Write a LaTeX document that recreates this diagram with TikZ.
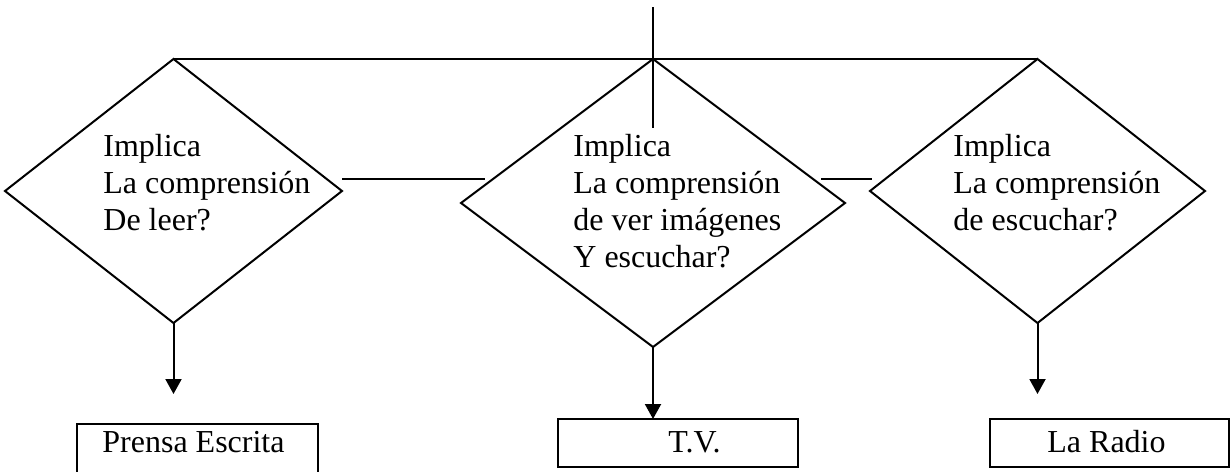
\documentclass[tikz,border=0pt]{standalone}
\usepackage{fontspec}
\setmainfont{Liberation Serif}
\usetikzlibrary{shapes.geometric,arrows.meta,positioning,calc}

\tikzset{
    rombo/.style={draw, diamond, inner sep=0pt, outer sep=0pt, line width=1pt},
    caja/.style={draw, rectangle, inner sep=0pt, outer sep=0pt, line width=1pt},
    texto/.style={anchor=base west, inner sep=0pt, align=left,
        font=\fontsize{16}{18.5}\selectfont},
    linea/.style={line width=1pt},
    flecha/.style={line width=1pt, -{Triangle[length=7.5pt,width=8pt]}}
}

\begin{document}
\begin{tikzpicture}[x=0.5pt, y=-0.5pt]
                \useasboundingbox (0,0) rectangle (1230,471);

                % Rombos
                \node[rombo, minimum width=168.5pt, minimum height=132pt] (dl) at (173.5,191) {};
                \node[rombo, minimum width=192pt, minimum height=144pt] (dm) at (653,203) {};
                \node[rombo, minimum width=167.5pt, minimum height=132pt] (dr) at (1037.5,191) {};

                % Textos de los rombos (base = ultima linea)
                \node[texto] (tl) at (103,230) {Implica\\La comprensión\\De leer?};
                \node[texto] (tm) at (573,267) {Implica\\La comprensión\\de ver imágenes\\Y escuchar?};
                \node[texto] (tr) at (953,230) {Implica\\La comprensión\\de escuchar?};

                % Cajas
                \node[caja, minimum width=120.5pt, minimum height=26pt] (prensa) at (197.5,450) {};
                \node[caja, minimum width=120pt, minimum height=24pt] (tv) at (678,443) {};
                \node[caja, minimum width=119.5pt, minimum height=24pt] (radio) at (1109.5,443) {};
                \node[texto] (tprensa) at (102,452) {Prensa Escrita};
                \node[texto] (ttv) at (668,452) {T.V.};
                \node[texto] (tradio) at (1047,452) {La Radio};

                % Linea superior y tallo
                \coordinate (stemtop) at (653,7);
                \coordinate (stembot) at (653,128);
                \draw[linea] (dl.north) -- (dr.north);
                \draw[linea] (stemtop) -- (stembot);

                % Uniones entre rombos
                \draw[linea] ([yshift=6pt]dl.east) -- ([xshift=12pt,yshift=12pt]dm.west);
                \draw[linea] ([xshift=-12pt,yshift=12pt]dm.east) -- ([xshift=1pt,yshift=6pt]dr.west);

                % Flechas
                \draw[flecha] (dl.south) -- ++(0,71);
                \draw[flecha] (dm.south) -- (dm.south |- tv.north);
                \draw[flecha] (dr.south) -- ++(0,71);
\end{tikzpicture}
\end{document}
